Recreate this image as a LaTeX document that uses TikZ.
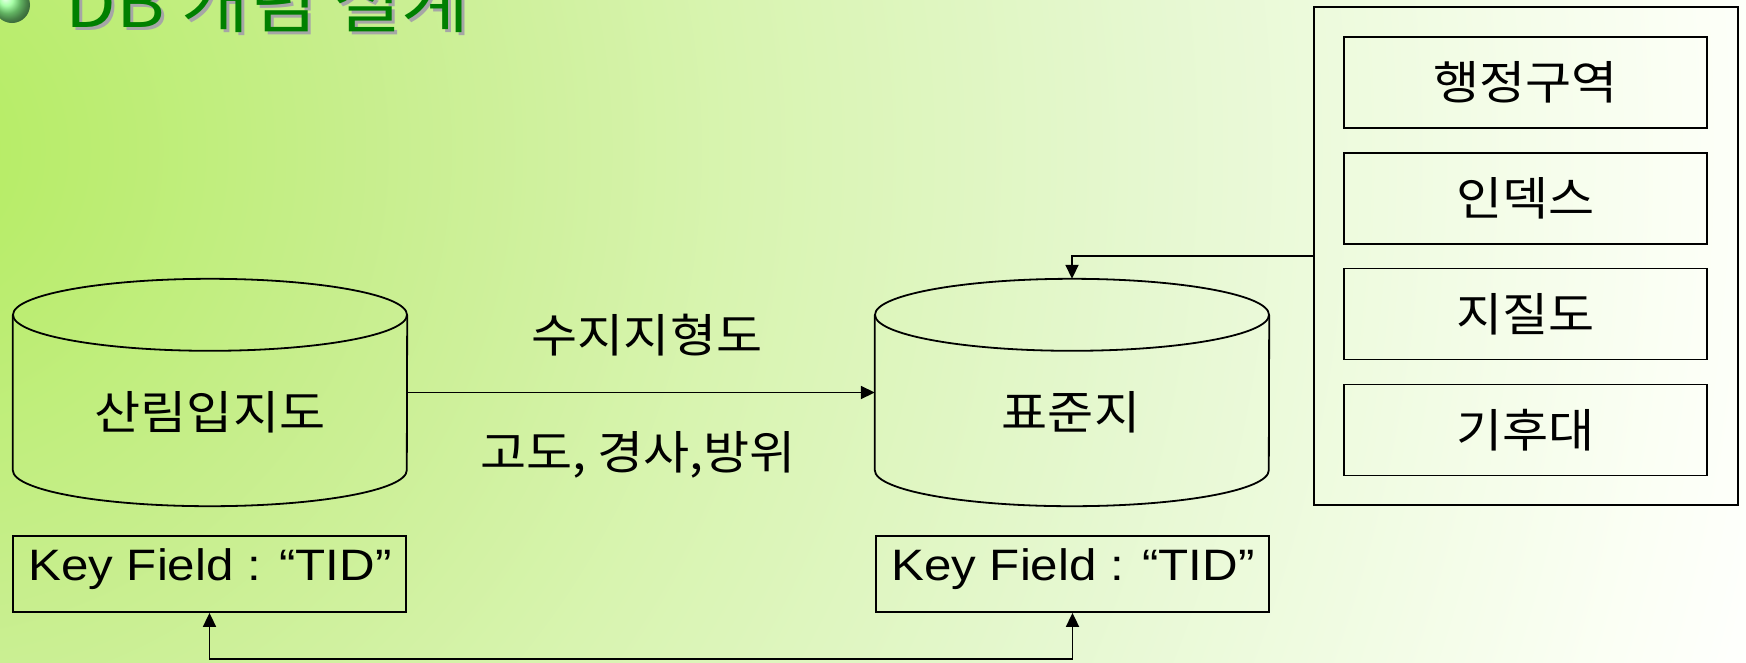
\documentclass[tikz,border=0pt]{standalone}
\usepackage{fontspec}
\setmainfont{Noto Sans CJK KR}[FakeStretch=1.09]
\newfontfamily\titlefont{Noto Sans CJK KR}[FakeStretch=1.12]
\newfontfamily\keyfont{Liberation Sans}[FakeStretch=1.12]
\usetikzlibrary{arrows.meta,calc}
\pgfdeclareradialshading{bgshade}{\pgfpoint{0bp}{0bp}}{rgb(0bp)=(0.70,0.93,0.39); rgb(1.3bp)=(0.72,0.93,0.41); rgb(5.8bp)=(0.78,0.933,0.55); rgb(10.7bp)=(0.847,0.957,0.69); rgb(16bp)=(0.90,0.972,0.816); rgb(22.9bp)=(0.985,1,0.96); rgb(25bp)=(1,1,1); rgb(50bp)=(1,1,1)}
\begin{document}
\begin{tikzpicture}[x=1pt,y=-1pt,
  ln/.style={line width=1.8pt, draw=black},
  kor/.style={font=\fontsize{46}{52}\selectfont, inner sep=0pt},
  keytext/.style={font=\keyfont\fontsize{44}{50}\selectfont, inner sep=0pt},
  body/.style={minimum width=394pt, minimum height=155pt, inner sep=0pt},
  keybox/.style={ln, minimum width=393pt, minimum height=76pt, inner sep=0pt},
  innerbox/.style={ln, minimum width=363pt, minimum height=91pt, inner sep=0pt, font=\fontsize{46}{52}\selectfont},
  tip/.style={-{Triangle[length=14pt,width=13pt]}},
  bitip/.style={{Triangle[length=14pt,width=13pt]}-{Triangle[length=14pt,width=13pt]}}
]
\useasboundingbox (0,0) rectangle (1746,662);
\clip (0,0) rectangle (1746,662);
\shade[shading=bgshade] (-100,150) circle (1950pt);

% title
\shade[ball color=green!45!white] (12,5) circle (18pt);
\node[anchor=base west, text=black!35, font=\titlefont\fontsize{66}{70}\selectfont, inner sep=0pt] (titleshadow) at (68,30) {DB 개념 설계};
\node[anchor=base west, text=green!50!black, font=\titlefont\fontsize{66}{70}\selectfont, inner sep=0pt] (title) at (65,27) {DB 개념 설계};

% cylinders
\node[body] (L) at (210,392.5) {};
\node[body] (R) at (1072,392.5) {};
\foreach \c in {L,R}{
  \draw[ln] (\c.north west) -- (\c.south west)
    arc[start angle=180, end angle=360, x radius=197pt, y radius=36pt]
    -- (\c.north east);
  \draw[ln] (\c.north) ellipse [x radius=197pt, y radius=36pt];
}
\coordinate (Rtop) at ($(R.north)+(0,-36)$);
\node[kor] (Ltext) at (210,412) {산림입지도};
\node[kor] (Rtext) at (1071,412) {표준지};

% arrow between cylinders
\draw[ln, tip] (L.east) -- (R.west);
\node[kor] (lab1) at (647,335) {수지지형도};
\node[kor] (lab2) at (638,455) {고도, 경사,방위};

% right panel
\node[ln, minimum width=424pt, minimum height=498pt, inner sep=0pt] (Box) at (1526,256) {};
\node[innerbox] (b1) at (1525.5,82.5) {행정구역};
\node[innerbox] (b2) at (1525.5,198.5) {인덱스};
\node[innerbox] (b3) at (1525.5,314) {지질도};
\node[innerbox] (b4) at (1525.5,430) {기후대};
\draw[ln, tip] (Box.west) -| (Rtop);

% key fields
\node[keybox] (Kl) at (209.5,574) {};
\node[keybox] (Kr) at (1072.5,574) {};
\node[keytext, anchor=base] (Klt) at (210,580) {Key Field : “TID”};
\node[keytext, anchor=base] (Krt) at (1073,580) {Key Field : “TID”};
\coordinate (bot) at (640,659);
\draw[ln, bitip] (Kl.south) |- (bot) -| (Kr.south);
\end{tikzpicture}
\end{document}
